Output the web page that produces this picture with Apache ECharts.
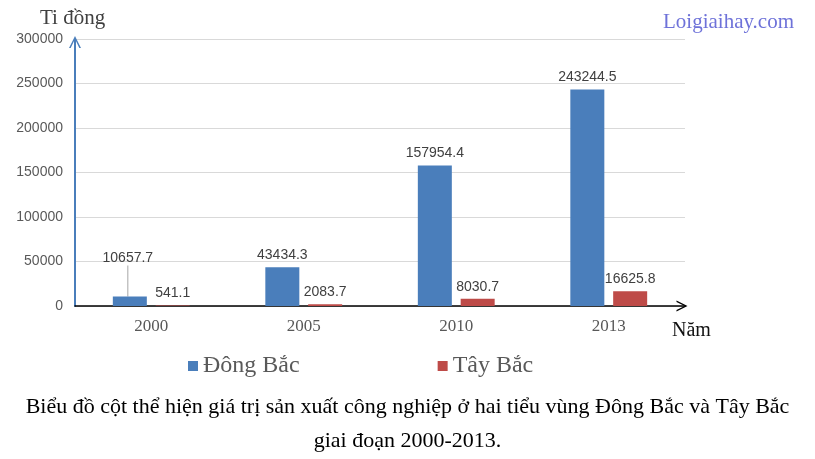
<!DOCTYPE html>
<html>
<head>
<meta charset="utf-8">
<script src="https://cdn.jsdelivr.net/npm/echarts@6/dist/echarts.min.js"></script>
<style>
html,body{margin:0;padding:0;background:#fff;}
#c{width:815px;height:459px;}
</style>
</head>
<body>
<div id="c"></div>
<script>
const categories = ['2000', '2005', '2010', '2013'];
const dongBac = [10657.7, 43434.3, 157954.4, 243244.5];
const tayBac = [541.1, 2083.7, 8030.7, 16625.8];
const seriesNames = ['Đông Bắc', 'Tây Bắc'];
const yTicks = { min: 0, max: 300000, interval: 50000 };

const chevron = 'path://M0,10 L5,0 L10,10 L8.6,10 L5,2.6 L1.4,10 Z';

const chart = echarts.init(document.getElementById('c'));
const labelStyle = {
  show: true, position: 'top', distance: 5,
  color: '#404040', fontFamily: 'Liberation Sans', fontSize: 14
};
chart.setOption({
  animation: false,
  color: ['#4a7ebb', '#be4b48'],
  title: [
    { text: 'Ti đồng', left: 35, top: 3,
      textStyle: { fontFamily: 'Liberation Serif', fontSize: 21, fontWeight: 'normal', color: '#404040' } },
    { text: 'Loigiaihay.com', left: 658, top: 7,
      textStyle: { fontFamily: 'Liberation Serif', fontSize: 21, fontWeight: 'normal', color: '#6e72d9' } },
    { text: 'Năm', left: 667, top: 316,
      textStyle: { fontFamily: 'Liberation Serif', fontSize: 20, fontWeight: 'normal', color: '#111' } },
    { text: 'Biểu đồ cột thể hiện giá trị sản xuất công nghiệp ở hai tiểu vùng Đông Bắc và Tây Bắc',
      left: 'center', top: 391,
      textStyle: { fontFamily: 'Liberation Serif', fontSize: 22, fontWeight: 'normal', color: '#000' } },
    { text: 'giai đoạn 2000-2013.', left: 'center', top: 425,
      textStyle: { fontFamily: 'Liberation Serif', fontSize: 22, fontWeight: 'normal', color: '#000' } }
  ],
  legend: {
    left: 183, top: 349, itemWidth: 10, itemHeight: 10, itemGap: 138,
    icon: 'rect',
    textStyle: { fontFamily: 'Liberation Serif', fontSize: 24, color: '#595959' },
    data: seriesNames
  },
  grid: { left: 75, right: 130, top: 39, bottom: 153, containLabel: false },
  xAxis: {
    type: 'category', data: categories,
    axisLine: { show: true, symbol: ['none', chevron], symbolSize: [13, 11], symbolOffset: [0, -3],
      lineStyle: { color: '#000', width: 1.5 } },
    axisTick: { show: false },
    axisLabel: { fontFamily: 'Liberation Serif', fontSize: 17, color: '#595959', margin: 12 }
  },
  yAxis: {
    type: 'value', min: yTicks.min, max: yTicks.max, interval: yTicks.interval,
    axisLine: { show: true, symbol: ['none', chevron], symbolSize: [14, 12], symbolOffset: [0, -3],
      lineStyle: { color: '#4a7ebb', width: 2 } },
    axisTick: { show: false },
    splitLine: { lineStyle: { color: '#d9d9d9', width: 1 } },
    axisLabel: { fontFamily: 'Liberation Sans', fontSize: 14, color: '#595959', margin: 12,
      formatter: function (v) { return String(v); } }
  },
  series: [
    {
      name: seriesNames[0], type: 'bar', barWidth: 34, barGap: '26%',
      data: dongBac.map((v, i) => i === 0 ? { value: v, labelLine: { show: true, lineStyle: { color: '#a6a6a6', width: 1 } } } : v),
      label: labelStyle,
      labelLayout: function (p) { return p.dataIndex === 0 ? { dy: -26, dx: -2 } : {}; },
      labelLine: { show: false }
    },
    {
      name: seriesNames[1], type: 'bar', barWidth: 34,
      data: tayBac,
      label: labelStyle
    }
  ]
});
</script>
</body>
</html>
